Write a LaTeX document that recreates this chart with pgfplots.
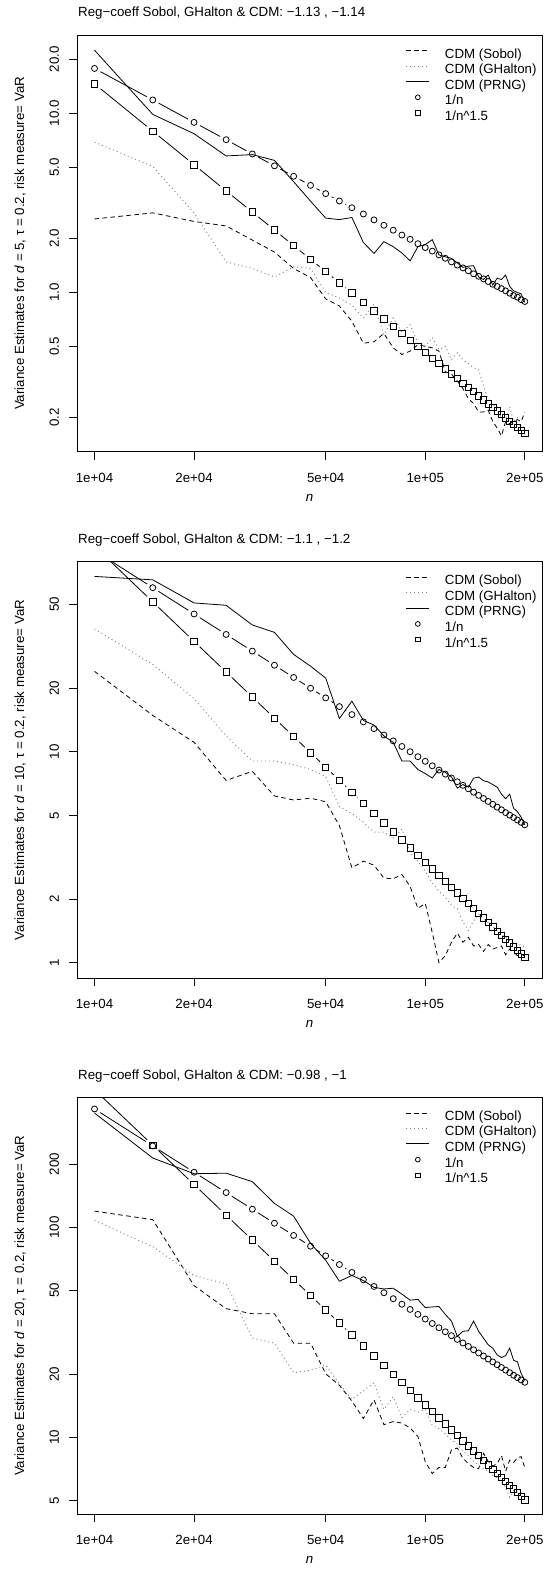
\documentclass[border=0pt]{standalone}
\usepackage{fontspec}
\setmainfont{Liberation Sans}
\usepackage{pgfplots}
\pgfplotsset{compat=1.18}
\usepackage{pgfplotstable}
\newcommand\fs{\fontsize{13.3bp}{15.8bp}\selectfont}

\pgfplotstableread{
n sob gh prng inv inv15
10000 2.57 6.9 22.5 17.8 14.6
15000 2.78 5.05 9.86 11.87 7.95
20000 2.49 2.78 7.69 8.9 5.16
25000 2.35 1.48 5.78 7.12 3.69
30000 1.96 1.36 5.88 5.93 2.81
35000 1.68 1.22 5.46 5.09 2.23
40000 1.36 1.39 4.15 4.45 1.825
45000 1.21 1.36 3.23 3.96 1.53
50000 0.92 1.0 2.6 3.56 1.306
55000 0.84 0.93 2.55 3.24 1.132
60000 0.69 0.85 2.62 2.97 0.993
65000 0.52 0.72 1.90 2.74 0.881
70000 0.53 0.86 1.65 2.54 0.788
75000 0.59 0.58 1.92 2.37 0.711
80000 0.49 0.72 1.80 2.225 0.645
85000 0.45 0.60 1.66 2.09 0.589
90000 0.47 0.66 1.50 1.98 0.541
95000 0.51 0.52 1.80 1.87 0.499
100000 0.50 0.50 1.85 1.78 0.462
105000 0.49 0.56 1.97 1.70 0.429
110000 0.47 0.48 1.62 1.62 0.400
115000 0.36 0.50 1.58 1.55 0.374
120000 0.35 0.42 1.55 1.48 0.351
125000 0.32 0.46 1.46 1.42 0.330
130000 0.29 0.42 1.38 1.37 0.311
135000 0.255 0.40 1.40 1.32 0.294
140000 0.24 0.38 1.41 1.27 0.279
145000 0.215 0.37 1.22 1.23 0.264
150000 0.215 0.30 1.18 1.19 0.251
155000 0.22 0.25 1.25 1.15 0.239
160000 0.19 0.24 1.10 1.11 0.228
165000 0.175 0.22 1.20 1.08 0.218
170000 0.158 0.20 1.18 1.05 0.208
175000 0.19 0.19 1.25 1.02 0.199
180000 0.185 0.23 1.08 0.99 0.191
185000 0.19 0.19 1.02 0.96 0.183
190000 0.195 0.20 1.00 0.94 0.176
195000 0.19 0.18 0.98 0.91 0.170
200000 0.215 0.175 0.88 0.89 0.163
}\tabA

\pgfplotstableread{
n sob gh prng inv inv15
10000 24.1 38.3 68.0 90.2 94.6
15000 14.9 26.0 65.5 60.13 51.49
20000 11.1 17.9 50.9 45.1 33.45
25000 7.32 11.9 49.6 36.08 23.93
30000 8.09 9.05 40.0 30.07 18.21
35000 6.18 9.05 36.9 25.77 14.45
40000 5.91 8.7 29.0 22.55 11.83
45000 6.03 8.25 25.5 20.04 9.91
50000 5.8 7.66 22.4 18.04 8.46
55000 4.47 5.49 14.4 16.4 7.33
60000 2.82 5.1 17.4 15.03 6.44
65000 3.03 4.64 14.1 13.88 5.71
70000 2.9 4.16 13.4 12.89 5.11
75000 2.52 4.16 11.9 12.03 4.61
80000 2.5 3.9 11.1 11.28 4.18
85000 2.62 4.3 9.05 10.61 3.82
90000 2.3 3.33 9.05 10.02 3.50
95000 1.81 3.03 8.25 9.49 3.23
100000 1.91 2.72 7.89 9.02 2.99
105000 1.39 2.39 7.52 8.59 2.78
110000 1.0 2.18 8.25 8.2 2.59
115000 1.08 2.05 8.0 7.84 2.43
120000 1.25 1.87 7.6 7.52 2.28
125000 1.38 1.80 6.73 7.22 2.14
130000 1.25 1.56 7.0 6.94 2.02
135000 1.32 1.42 6.8 6.68 1.91
140000 1.2 1.58 7.5 6.44 1.81
145000 1.22 1.70 7.6 6.22 1.71
150000 1.13 1.62 7.3 6.01 1.63
155000 1.22 1.55 7.2 5.82 1.55
160000 1.16 1.48 7.0 5.64 1.48
165000 1.18 1.42 6.8 5.47 1.41
170000 1.2 1.36 6.3 5.31 1.35
175000 1.09 1.32 6.0 5.15 1.29
180000 1.16 1.27 6.3 5.01 1.24
185000 1.12 1.24 5.4 4.88 1.19
190000 1.08 1.21 5.2 4.75 1.14
195000 1.10 1.22 4.9 4.63 1.10
200000 1.07 1.18 4.5 4.51 1.06
}\tabB

\pgfplotstableread{
n sob gh prng inv inv15
10000 119.4 108 350 366 452
15000 108.8 80.9 213.8 244 246.0
20000 52.8 59.0 180 183 159.8
25000 41.0 53.8 181 146.4 114.3
30000 38.8 29.7 165 122 87.0
35000 38.8 28.1 130 104.6 69.0
40000 28.1 20.3 113 91.5 56.5
45000 28.1 20.9 83.9 81.3 47.35
50000 20.1 22.1 69.7 73.2 40.43
55000 17.7 18.0 55.4 66.5 35.04
60000 14.9 15.2 59.0 61 30.75
65000 12.3 16.7 55.8 56.3 27.28
70000 15.1 18.2 51.8 52.3 24.41
75000 11.5 13.6 50.9 48.8 22.01
80000 11.9 15.6 51.3 45.75 19.98
85000 11.7 12.4 48.1 43.06 18.24
90000 11.1 13.6 45.0 40.67 16.74
95000 10.1 13.2 45.4 38.53 15.44
100000 7.67 13.6 41.5 36.6 14.29
105000 6.73 11.4 41.8 34.86 13.28
110000 7.2 11.0 42.0 33.27 12.39
115000 7.2 10.4 38.5 31.83 11.59
120000 8.72 9.75 35.8 30.5 10.87
125000 8.9 9.3 30.3 29.28 10.23
130000 7.95 8.6 32.0 28.15 9.64
135000 7.5 8.2 32.2 27.11 9.11
140000 7.2 7.7 35.8 26.14 8.63
145000 7.1 7.4 32.0 25.24 8.19
150000 8.4 7.1 29.7 24.4 7.78
155000 7.7 6.9 27.6 23.61 7.41
160000 7.3 6.6 26.6 22.88 7.06
165000 7.5 6.4 24.7 22.18 6.74
170000 8.2 6.1 24.0 21.53 6.45
175000 6.9 5.8 24.5 20.91 6.17
180000 7.8 5.19 26.6 20.33 5.92
185000 7.6 5.6 23.3 19.78 5.68
190000 8.0 5.5 22.9 19.26 5.46
195000 8.1 5.3 20.1 18.77 5.25
200000 7.2 5.2 18.7 18.3 5.05
}\tabC

\pgfplotsset{
  legline/.style={legend image code/.code={\draw[##1] (0bp,4.6bp)--(22.7bp,4.6bp);}},
  legmark/.style={legend image code/.code={\draw[##1] plot coordinates {(11.35bp,4.6bp)};}},
  myax/.style={
    scale only axis, width=464.7bp, height=416.5bp,
    xmin=8871.6, xmax=225450,
    clip marker paths=true,
    axis line style={line width=0.8bp},
    tick align=outside, major tick length=8bp, tick pos=left,
    xminorticks=false, yminorticks=false,
    major tick style={black, line width=0.8bp},
    xtick={10000,20000,50000,100000,200000},
    xticklabels={1e+04,2e+04,5e+04,1e+05,2e+05},
    xticklabel style={font=\fs, anchor=north, inner sep=0pt},
    yticklabel style={font=\fs, rotate=90, anchor=base, inner sep=0pt},
    xticklabel shift=13bp,
    yticklabel shift=10.5bp,
    title style={at={(0.0015,1)}, anchor=base west, yshift=12.5bp, font=\fs, inner sep=0pt},
    xlabel style={at={(0.5,0)}, anchor=base, yshift=-49.5bp, font=\fs, inner sep=0pt},
    ylabel style={at={(-0.1147,0.5)}, anchor=base, font=\fs, inner sep=0pt},
    xlabel={\textit{n}},
    legend style={draw=none, fill=none, inner sep=0pt, outer sep=0pt,
      at={(0.70734,0.96747)}, anchor=north west,
      font=\fs, row sep=2.4bp, column sep=15.3bp,
      nodes={inner sep=0pt, text height=9.5bp, text depth=3.5bp}},
    legend cell align=left,
  },
}

\newcommand\legendall{%
  \addlegendimage{black, line width=0.8bp, dash pattern=on 4.5bp off 3.5bp, legline}
  \addlegendentry{CDM (Sobol)}
  \addlegendimage{black!50, line width=0.9bp, dash pattern=on 1bp off 3bp, legline}
  \addlegendentry{CDM (GHalton)}
  \addlegendimage{black, line width=0.8bp, legline}
  \addlegendentry{CDM (PRNG)}
  \addlegendimage{black, line width=0.8bp, mark=o, mark size=2.4bp, legmark}
  \addlegendentry{1/n}
  \addlegendimage{black, line width=0.8bp, mark=square, mark size=2.2bp, legmark}
  \addlegendentry{1/n\textasciicircum 1.5}
}
\newcommand\plotall[1]{%
  \addplot[black, line width=0.8bp, forget plot] table[x=n, y=inv] {#1};
  \addplot[only marks, mark=*, mark size=6.5bp, mark options={white, draw=white}, forget plot] table[x=n, y=inv] {#1};
  \addplot[black, line width=0.8bp, forget plot] table[x=n, y=inv15] {#1};
  \addplot[only marks, mark=*, mark size=7.5bp, mark options={white, draw=white}, forget plot] table[x=n, y=inv15] {#1};
  \addplot[black, line width=0.8bp, dash pattern=on 4.5bp off 3.5bp, forget plot] table[x=n, y=sob] {#1};
  \addplot[black!50, line width=0.9bp, dash pattern=on 1bp off 3bp, forget plot] table[x=n, y=gh] {#1};
  \addplot[black, line width=0.8bp, forget plot] table[x=n, y=prng] {#1};
  \addplot[black, only marks, mark=o, mark size=3.0bp, mark options={solid, line width=0.8bp}, forget plot] table[x=n, y=inv] {#1};
  \addplot[black, only marks, mark=square, mark size=3.2bp, mark options={solid, line width=0.8bp}, forget plot] table[x=n, y=inv15] {#1};
}

\begin{document}
\begin{tikzpicture}
\useasboundingbox (0,0) rectangle (545bp,1581bp);

\begin{loglogaxis}[myax, at={(77.3bp,1129.3bp)}, anchor=south west,
  ymin=0.129, ymax=27.3,
  ytick={0.2,0.5,1,2,5,10,20}, yticklabels={0.2,0.5,1.0,2.0,5.0,10.0,20.0},
  title={Reg−coeff Sobol, GHalton \& CDM: −1.13 , −1.14},
  ylabel={Variance Estimates for \textit{d} = 5, τ = 0.2, risk measure= VaR}]
\legendall
\plotall{\tabA}
\end{loglogaxis}

\begin{loglogaxis}[myax, at={(77.3bp,602.7bp)}, anchor=south west,
  ymin=0.843, ymax=79.8,
  ytick={1,2,5,10,20,50}, yticklabels={1,2,5,10,20,50},
  title={Reg−coeff Sobol, GHalton \& CDM: −1.1 , −1.2},
  ylabel={Variance Estimates for \textit{d} = 10, τ = 0.2, risk measure= VaR}]
\legendall
\plotall{\tabB}
\end{loglogaxis}

\begin{loglogaxis}[myax, at={(77.3bp,67bp)}, anchor=south west,
  ymin=4.32, ymax=415,
  ytick={5,10,20,50,100,200}, yticklabels={5,10,20,50,100,200},
  title={Reg−coeff Sobol, GHalton \& CDM: −0.98 , −1},
  ylabel={Variance Estimates for \textit{d} = 20, τ = 0.2, risk measure= VaR}]
\legendall
\plotall{\tabC}
\end{loglogaxis}
\end{tikzpicture}
\end{document}
